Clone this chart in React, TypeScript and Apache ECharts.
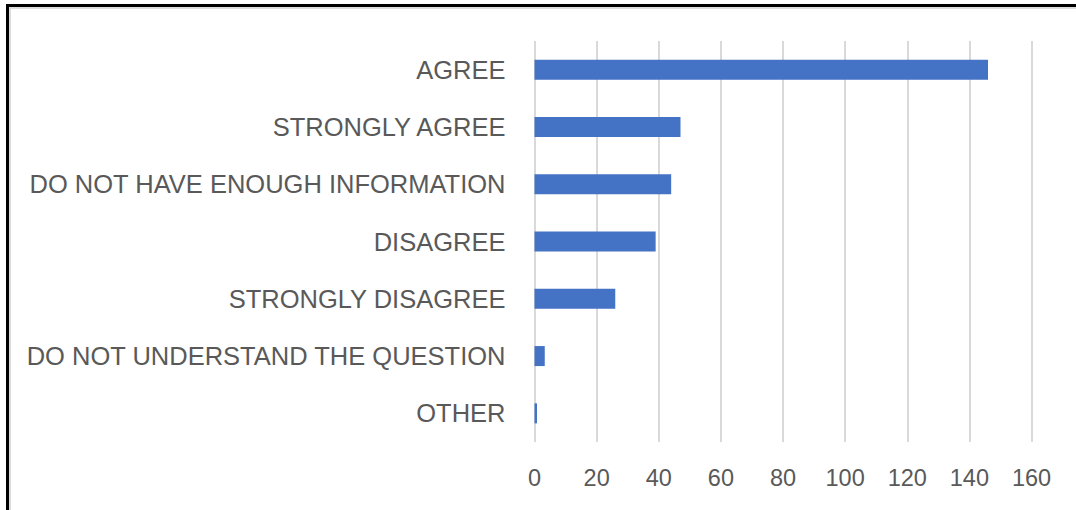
import React, { useEffect, useRef } from "react";
import * as echarts from "echarts";

const categories = [
  "AGREE",
  "STRONGLY AGREE",
  "DO NOT HAVE ENOUGH INFORMATION",
  "DISAGREE",
  "STRONGLY DISAGREE",
  "DO NOT UNDERSTAND THE QUESTION",
  "OTHER",
];
const values = [146, 47, 44, 39, 26, 3.3, 0.8];
const axisMin = 0;
const axisMax = 160;
const axisInterval = 20;

export default function App() {
  const ref = useRef<HTMLDivElement>(null);
  useEffect(() => {
    if (!ref.current) return;
    const chart = echarts.init(ref.current, undefined, { renderer: "svg" });
    chart.setOption({
      animation: false,
      backgroundColor: "#ffffff",
      grid: { left: 534.5, right: 44.5, top: 41, bottom: 68, containLabel: false },
      xAxis: {
        type: "value",
        min: axisMin,
        max: axisMax,
        interval: axisInterval,
        axisLine: { show: false },
        axisTick: { show: false },
        splitLine: { show: true, lineStyle: { color: "#d9d9d9", width: 2 } },
        axisLabel: {
          color: "#595959",
          fontSize: 23.5,
          fontFamily: "Liberation Sans",
          margin: 24,
        },
      },
      yAxis: {
        type: "category",
        data: categories,
        inverse: true,
        axisLine: { show: false },
        axisTick: { show: false },
        axisLabel: {
          color: "#595959",
          fontSize: 25.5,
          fontFamily: "Liberation Sans",
          margin: 29,
        },
      },
      series: [
        {
          type: "bar",
          data: values,
          barWidth: 20,
          itemStyle: { color: "#4472c4" },
        },
      ],
    });
    return () => chart.dispose();
  }, []);
  return (
    <div style={{ position: "absolute", left: 0, top: 0, width: 1076, height: 510, background: "#fff" }}>
      <div ref={ref} style={{ position: "absolute", left: 0, top: 0, width: 1076, height: 510 }} />
      <div
        style={{
          position: "absolute",
          left: 6,
          top: 4,
          width: 1076,
          height: 510,
          borderTop: "3px solid #000",
          borderLeft: "3px solid #000",
          boxSizing: "border-box",
          pointerEvents: "none",
        }}
      />
      <div
        style={{
          position: "absolute",
          left: 9,
          top: 7,
          width: 1076,
          height: 510,
          borderTop: "2px solid #dcdcdc",
          borderLeft: "2px solid #dcdcdc",
          boxSizing: "border-box",
          pointerEvents: "none",
        }}
      />
    </div>
  );
}
